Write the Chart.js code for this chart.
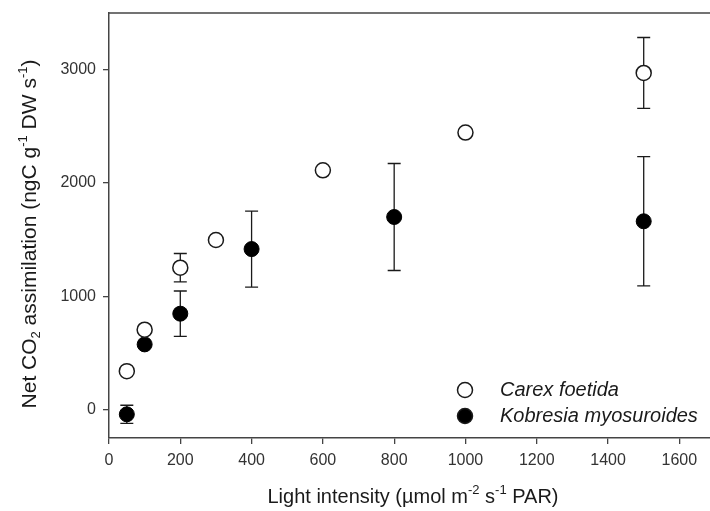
<!DOCTYPE html>
<html>
<head>
<meta charset="utf-8">
<script src="https://cdn.jsdelivr.net/npm/chart.js@4/dist/chart.umd.min.js"></script>
<style>
  html, body { margin: 0; padding: 0; background: #fff; overflow: hidden; }
</style>
</head>
<body>
<canvas id="lightChart" width="724" height="511"></canvas>
<script>
// light levels and series values
const carexX = [50, 100, 200, 300, 600, 1000, 1500];
const carexY = [340, 706, 1253, 1497, 2112, 2445, 2971];
const carexErr = [0, 0, 125, 0, 0, 0, 313];

const kobX = [50, 100, 200, 400, 800, 1500];
const kobY = [-41, 576, 847, 1417, 1700, 1662];
const kobErr = [80, 0, 200, 335, 472, 570];

const xTicks = [0, 200, 400, 600, 800, 1000, 1200, 1400, 1600];
const yTicks = [0, 1000, 2000, 3000];

const seriesNames = ['Carex foetida', 'Kobresia myosuroides'];

const ink = '#1a1a1a';
const fontFam = '"Liberation Sans", Arial, sans-serif';

function pts(xs, ys) {
    return xs.map((x, i) => ({ x: x, y: ys[i] }));
}

// draw a list of text pieces with sub/superscripts, centred at (cx, cy)
function richText(c, parts, cx, cy, base) {
    let total = 0;
    parts.forEach(p => {
        c.font = (p.size || base) + 'px ' + fontFam;
        p.w = c.measureText(p.t).width;
        total += p.w;
    });
    let x = cx - total / 2;
    c.textBaseline = 'middle';
    c.textAlign = 'left';
    parts.forEach(p => {
        c.font = (p.size || base) + 'px ' + fontFam;
        c.fillText(p.t, x, cy + (p.dy || 0));
        x += p.w;
    });
}

const extras = {
    id: 'extras',
    beforeDatasetsDraw(chart) {
        const c = chart.ctx;
        const xs = chart.scales.x, ys = chart.scales.y;
        c.save();
        c.strokeStyle = ink;
        c.lineWidth = 1.3;
        const bars = [[carexX, carexY, carexErr], [kobX, kobY, kobErr]];
        bars.forEach(b => {
            b[0].forEach((xv, i) => {
                const e = b[2][i];
                if (!e) return;
                const px = xs.getPixelForValue(xv);
                const top = ys.getPixelForValue(b[1][i] + e);
                const bot = ys.getPixelForValue(b[1][i] - e);
                c.beginPath();
                c.moveTo(px, top); c.lineTo(px, bot);
                c.moveTo(px - 6.5, top); c.lineTo(px + 6.5, top);
                c.moveTo(px - 6.5, bot); c.lineTo(px + 6.5, bot);
                c.stroke();
            });
        });
        c.restore();
    },
    afterDraw(chart) {
        const c = chart.ctx;
        const a = chart.chartArea;
        c.save();
        // top frame line
        c.strokeStyle = '#444';
        c.lineWidth = 1.5;
        c.beginPath();
        c.moveTo(a.left, a.top); c.lineTo(a.right, a.top);
        c.stroke();

        // legend inside the plot
        const lx = 465, ly = [390, 416];
        c.lineWidth = 1.5;
        c.strokeStyle = ink;
        c.beginPath(); c.arc(lx, ly[0], 7.5, 0, Math.PI * 2);
        c.fillStyle = '#fff'; c.fill(); c.stroke();
        c.beginPath(); c.arc(lx, ly[1], 7.5, 0, Math.PI * 2);
        c.fillStyle = '#000'; c.fill(); c.stroke();
        c.fillStyle = ink;
        c.font = 'italic 20px ' + fontFam;
        c.textAlign = 'left';
        c.textBaseline = 'middle';
        c.fillText(seriesNames[0], 500, ly[0]);
        c.fillText(seriesNames[1], 500, ly[1]);

        // x axis title
        richText(c, [
            { t: 'Light intensity (\u00b5mol m' },
            { t: '-2', size: 13, dy: -7 },
            { t: ' s' },
            { t: '-1', size: 13, dy: -7 },
            { t: ' PAR)' }
        ], 413, 497, 20);

        // y axis title
        c.translate(30, 234);
        c.rotate(-Math.PI / 2);
        richText(c, [
            { t: 'Net CO' },
            { t: '2', size: 13, dy: 6 },
            { t: ' assimilation (ngC g' },
            { t: '-1', size: 13, dy: -7 },
            { t: ' DW s' },
            { t: '-1', size: 13, dy: -7 },
            { t: ')' }
        ], 0, 0, 21);
        c.restore();
    }
};

const ctx = document.getElementById('lightChart').getContext('2d');
const chart = new Chart(ctx, {
    type: 'scatter',
    data: {
        datasets: [
            {
                label: seriesNames[0],
                data: pts(carexX, carexY),
                pointRadius: 7.5,
                pointHoverRadius: 7.5,
                pointBackgroundColor: '#fff',
                pointBorderColor: ink,
                pointBorderWidth: 1.5
            },
            {
                label: seriesNames[1],
                data: pts(kobX, kobY),
                pointRadius: 7.5,
                pointHoverRadius: 7.5,
                pointBackgroundColor: '#000',
                pointBorderColor: '#000',
                pointBorderWidth: 1
            }
        ]
    },
    options: {
        responsive: false,
        animation: false,
        events: [],
        layout: { padding: { top: 13, right: 0, left: 0, bottom: 0 } },
        plugins: {
            legend: { display: false },
            tooltip: { enabled: false }
        },
        scales: {
            x: {
                type: 'linear',
                min: 0,
                max: 1700,
                afterBuildTicks: s => { s.ticks = xTicks.map(v => ({ value: v })); },
                afterFit: s => { s.height = 73; },
                grid: { drawOnChartArea: false, drawTicks: true, tickLength: 6, color: '#444', lineWidth: 1.3 },
                border: { display: true, color: '#444', width: 1.5 },
                ticks: { color: '#333', font: { family: fontFam, size: 16 }, padding: 7, maxRotation: 0,
                         callback: v => String(v) }
            },
            y: {
                type: 'linear',
                min: -250,
                max: 3500,
                afterBuildTicks: s => { s.ticks = yTicks.map(v => ({ value: v })); },
                afterFit: s => { s.width = 109; s.paddingTop = 0; s.paddingBottom = 0; },
                grid: { drawOnChartArea: false, drawTicks: true, tickLength: 6, color: '#444', lineWidth: 1.3 },
                border: { display: true, color: '#444', width: 1.5 },
                ticks: { color: '#333', font: { family: fontFam, size: 16 }, padding: 7,
                         callback: v => String(v) }
            }
        }
    },
    plugins: [extras]
});
</script>
</body>
</html>
